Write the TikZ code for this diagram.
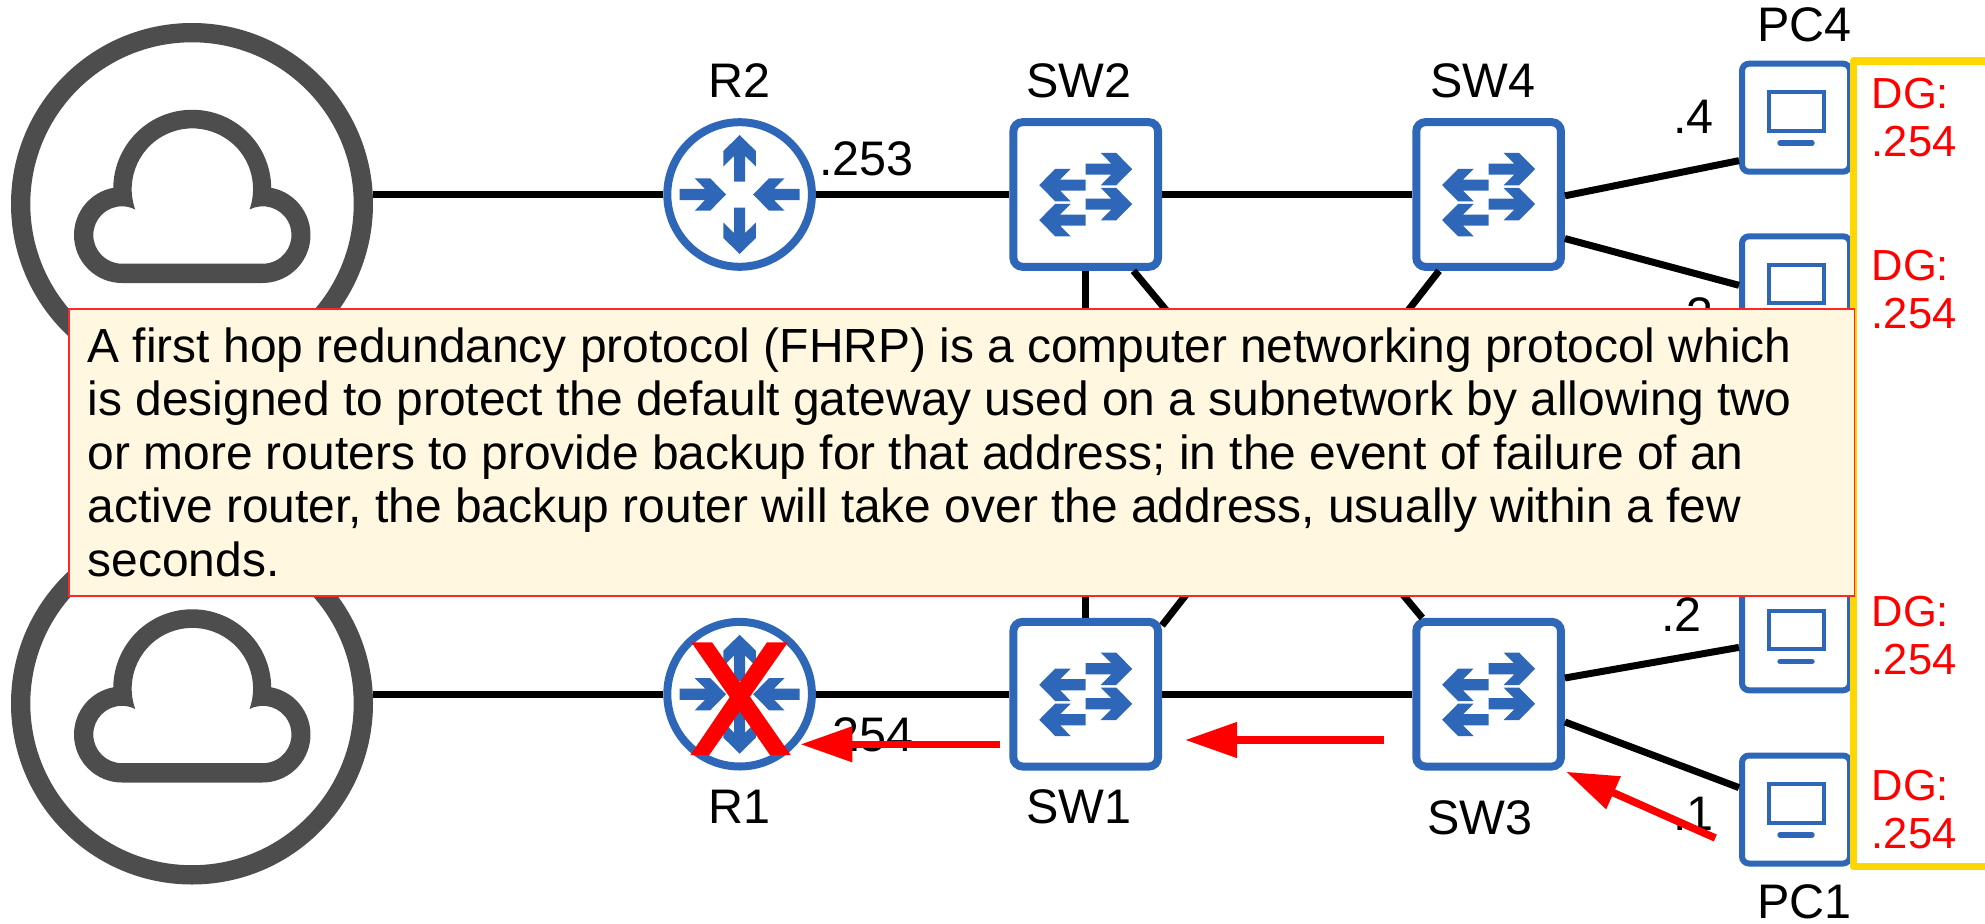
\documentclass[tikz,border=0pt]{standalone}
\usepackage{fontspec}
\setmainfont{Liberation Sans}
\usepackage{tikz}
\usetikzlibrary{arrows.meta}
\definecolor{devblue}{HTML}{2E67B8}
\definecolor{cloudgray}{HTML}{4D4D4D}
\definecolor{notefill}{HTML}{FFF7DF}
\definecolor{dgyellow}{HTML}{FFD700}
\tikzset{
  cloudnode/.style={circle,draw=cloudgray,fill=white,line width=19.3pt,minimum size=342.7pt,inner sep=0pt},
  routernode/.style={circle,draw=devblue,fill=white,line width=8pt,minimum size=144.6pt,inner sep=0pt},
  switchnode/.style={rectangle,draw=devblue,fill=white,line width=8pt,rounded corners=9pt,minimum size=144.6pt,inner sep=0pt},
  pcnode/.style={rectangle,draw=devblue,fill=white,line width=6pt,rounded corners=7pt,minimum size=108pt,inner sep=0pt},
  lab/.style={inner sep=0pt,font=\fontsize{48.5}{54}\selectfont},
  dglab/.style={inner sep=0pt,text=red,align=left,font=\fontsize{43.5}{48}\selectfont},
  link/.style={line width=7pt},
  redarrow/.style={red,line width=7.5pt,-{Triangle[length=52pt,width=34pt]}},
  arrowicon/.pic={\fill[devblue] (0,-5.6) -- (25.5,-5.6) -- (15,-16.2) -- (30.5,-16.2) -- (46.5,0) -- (30.5,16.2) -- (15,16.2) -- (25.5,5.6) -- (0,5.6) -- cycle;}
}
\begin{document}
\begin{tikzpicture}[x=1pt,y=-1pt]
  \useasboundingbox (0,0) rectangle (1985,923);
  % clouds
  \node[cloudnode] (cloudtop) at (192,204) {};
  \node[cloudnode] (cloudbot) at (192,703.5) {};
  \foreach \cy in {0,499.5}{
    \fill[cloudgray,even odd rule] (122,283+\cy) arc (90:259.5:48) arc (180.7:359.3:79) arc (280.5:450:48) -- cycle
      (122,263.7+\cy) arc (90:297.5:28.7) arc (160.3:379.7:60.7) arc (242.5:450:28.7) -- cycle;
  }
  % devices
  \node[routernode] (r2) at (739.6,194.5) {};
  \node[routernode] (r1) at (739.6,694.2) {};
  \node[switchnode] (sw2) at (1085.7,194.5) {};
  \node[switchnode] (sw1) at (1085.7,694.2) {};
  \node[switchnode] (sw4) at (1488.6,194.5) {};
  \node[switchnode] (sw3) at (1488.6,694.2) {};
  \node[pcnode] (pc4) at (1796,117.7) {};
  \node[pcnode] (pc3) at (1796,290.3) {};
  \node[pcnode] (pc2) at (1796,636.3) {};
  \node[pcnode] (pc1) at (1796,809.5) {};
  % links
  \draw[link] (cloudtop.east |- r2.west) -- (r2.west);
  \draw[link] (cloudbot.east |- r1.west) -- (r1.west);
  \draw[link] (r2.east) -- (sw2.west);
  \draw[link] (sw2.east) -- (sw4.west);
  \draw[link] (r1.east) -- (sw1.west);
  \draw[link] (sw1.east) -- (sw3.west);
  \draw[link] (sw2.south) -- (sw1.north);
  \draw[link] (sw2.-58) -- (sw3.131);
  \draw[link] (sw4.-123) -- (sw1.42);
  \draw[link] (sw4.-1.65) -- (pc4.217.7);
  \draw[link] (sw4.-30) -- (pc3.175.3);
  \draw[link] (sw3.12.5) -- (pc2.191.9);
  \draw[link] (sw3.-20.2) -- (pc1.159.6);
  % icons
  \foreach \dev in {r1,r2}{
    \foreach \a in {90,-90}{
      \pic[shift={(\dev)},rotate=\a,xshift=13pt] {arrowicon};
    }
    \foreach \a in {0,180}{
      \pic[shift={(\dev)},rotate=\a,xshift=60pt,rotate=180] {arrowicon};
    }
  }
  \foreach \dev in {sw1,sw2,sw3,sw4}{
    \foreach \dy in {-25.4,9.6}{
      \pic[shift={(\dev)},shift={(0,\dy)}] {arrowicon};
    }
    \foreach \dy in {-9.4,25.6}{
      \pic[shift={(\dev)},shift={(0,\dy)},rotate=180] {arrowicon};
    }
  }
  \foreach \dev in {pc1,pc2,pc3,pc4}{
    \begin{scope}[shift={(\dev)}]
      \draw[devblue,line width=4pt] (-27.5,-25.7) rectangle (27.5,13);
      \draw[devblue,line width=5.4pt,line cap=round] (-16,25.3) -- (16,25.3);
    \end{scope}
  }
  % labels
  \node[lab,anchor=base] (labr2) at (739.6,97.3) {R2};
  \node[lab,anchor=base] (labsw2) at (1079,97.3) {SW2};
  \node[lab,anchor=base] (labsw4) at (1483,97.3) {SW4};
  \node[lab,anchor=base] (labpc4) at (1804.5,41.7) {PC4};
  \node[lab,anchor=base] (labr1) at (739.6,823) {R1};
  \node[lab,anchor=base] (labsw1) at (1079,823) {SW1};
  \node[lab,anchor=base] (labsw3) at (1480,834) {SW3};
  \node[lab,anchor=base] (labpc1) at (1804.5,918) {PC1};
  \node[lab,anchor=base west] (ip253) at (819,175) {.253};
  \node[lab,anchor=base west] (ip254) at (819,751) {.254};
  \node[lab,anchor=base west] (ip4) at (1673,133.3) {.4};
  \node[lab,anchor=base west] (ip3) at (1673,331) {.3};
  \node[lab,anchor=base west] (ip2) at (1661,631.7) {.2};
  \node[lab,anchor=base west] (ip1) at (1673,830.7) {.1};
  % default gateways
  \node[dglab,anchor=base west] (dg4) at (1871.5,156.7) {DG:\\.254};
  \node[dglab,anchor=base west] (dg3) at (1871.5,328.3) {DG:\\.254};
  \node[dglab,anchor=base west] (dg2) at (1871.5,674.3) {DG:\\.254};
  \node[dglab,anchor=base west] (dg1) at (1871.5,848.3) {DG:\\.254};
  \draw[dgyellow,line width=7.5pt,line join=round] (1985,61) -- (1853.5,61) -- (1853.5,866.7) -- (1985,866.7);
  % failure
  \fill[red] (691.4,642.3) -- (712,642.3) -- (790.7,755) -- (770,755) -- cycle;
  \fill[red] (767,642.3) -- (787.9,642.3) -- (709.3,755) -- (690.4,755) -- cycle;
  \coordinate (fa) at (999.6,744.3);
  \coordinate (fb) at (800.4,744.3);
  \coordinate (fc) at (1384.3,740);
  \coordinate (fd) at (1185,740);
  \coordinate (fe) at (1715.3,838);
  \coordinate (ff) at (1566,771.7);
  \draw[redarrow] (fa) -- (fb);
  \draw[redarrow] (fc) -- (fd);
  \draw[redarrow] (fe) -- (ff);
  % note
  \node[rectangle,draw=red!85!white,fill=notefill,line width=1.5pt,anchor=north west,minimum width=1785.4pt,minimum height=286.7pt,inner sep=0pt] (notebox) at (68.3,308.3) {};
  \node[anchor=north west,inner sep=0pt,align=left,font=\fontsize{47.9}{53.5}\selectfont] (notetext) at (87.5,327.5) {A first hop redundancy protocol (FHRP) is a computer networking protocol which\\is designed to protect the default gateway used on a subnetwork by allowing two\\or more routers to provide backup for that address; in the event of failure of an\\active router, the backup router will take over the address, usually within a few\\seconds.};
\end{tikzpicture}
\end{document}
